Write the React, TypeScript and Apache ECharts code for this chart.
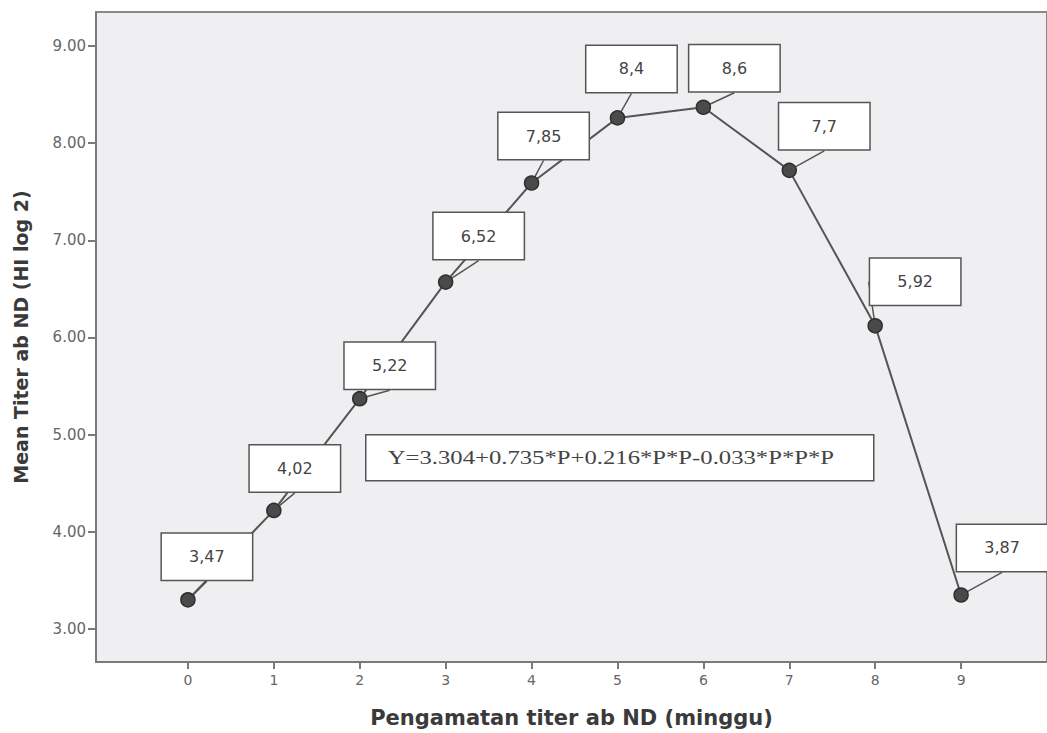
import React, { useEffect, useRef } from "react";
import * as echarts from "echarts";

const weeks = [0, 1, 2, 3, 4, 5, 6, 7, 8, 9];
const meanTiter = [3.3, 4.22, 5.37, 6.57, 7.59, 8.26, 8.37, 7.72, 6.12, 3.35];
const labelTexts = ["3,47", "4,02", "5,22", "6,52", "7,85", "8,4", "8,6", "7,7", "5,92", "3,87"];
const labelOffsets = [
  [19, -43], [21, -42], [30, -33], [33, -46], [12, -47],
  [14, -49], [31, -39], [35, -44], [40, -44], [41, -47],
];
const yTicks = [3, 4, 5, 6, 7, 8, 9];
const equation = "Y=3.304+0.735*P+0.216*P*P-0.033*P*P*P";

export default function App() {
  const ref = useRef<HTMLDivElement>(null);
  useEffect(() => {
    if (!ref.current) return;
    const chart = echarts.init(ref.current, null, { renderer: "svg" });
    const data = weeks.map((w, i) => ({
      value: [w, meanTiter[i]],
      label: {
        show: true,
        position: "inside",
        offset: labelOffsets[i],
        formatter: labelTexts[i],
      },
    }));
    chart.setOption({
      animation: false,
      backgroundColor: "#ffffff",
      grid: {
        left: 96,
        right: -3,
        top: 12,
        bottom: 71,
        show: true,
        backgroundColor: "#EFEFF1",
        borderColor: "#8a8a8a",
        borderWidth: 2,
      },
      xAxis: {
        type: "value",
        min: -1.07,
        max: 10,
        name: "Pengamatan titer ab ND (minggu)",
        nameLocation: "middle",
        nameGap: 45,
        nameTextStyle: { fontFamily: "DejaVu Sans", fontWeight: "bold", fontSize: 21, color: "#3a3a3a" },
        axisLine: { show: true, onZero: false, lineStyle: { color: "#7a7a7a", width: 2 } },
        axisTick: { show: true, length: 7, customValues: weeks, lineStyle: { color: "#7a7a7a", width: 2 } },
        axisLabel: { customValues: weeks, color: "#666", fontSize: 14, margin: 11, fontFamily: "DejaVu Sans" },
        splitLine: { show: false },
      },
      yAxis: {
        type: "value",
        min: 2.66,
        max: 9.35,
        name: "Mean Titer ab ND (HI log 2)",
        nameLocation: "middle",
        nameGap: 66,
        nameTextStyle: { fontFamily: "DejaVu Sans", fontWeight: "bold", fontSize: 19, color: "#3a3a3a" },
        axisLine: { show: true, onZero: false, lineStyle: { color: "#7a7a7a", width: 2 } },
        axisTick: { show: true, length: 8, customValues: yTicks, lineStyle: { color: "#7a7a7a", width: 2 } },
        axisLabel: {
          customValues: yTicks,
          color: "#666",
          fontSize: 15,
          margin: 10,
          fontFamily: "DejaVu Sans",
          formatter: (v: number) => v.toFixed(2),
        },
        splitLine: { show: false },
      },
      series: [
        {
          type: "line",
          data,
          symbol: "circle",
          symbolSize: 14,
          lineStyle: { color: "#555", width: 2 },
          itemStyle: { color: "#4a4a4a", borderColor: "#2e2e2e", borderWidth: 1.5 },
          label: {
            show: true,
            color: "#444",
            fontSize: 16,
            fontFamily: "DejaVu Sans, sans-serif",
            backgroundColor: "#ffffff",
            borderColor: "#555",
            borderWidth: 1.5,
            width: 90,
            height: 46,
            lineHeight: 46,
            align: "center",
            verticalAlign: "middle",
          },
          labelLine: { show: true, lineStyle: { color: "#555", width: 1.5 } },
          z: 3,
        },
      ],
      graphic: [
        {
          type: "group",
          left: 365,
          top: 434,
          children: [
            {
              type: "rect",
              shape: { x: 0, y: 0, width: 508, height: 46 },
              style: { fill: "#ffffff", stroke: "#555", lineWidth: 1.5 },
            },
            {
              type: "text",
              x: 22,
              y: 23,
              scaleX: 1.3,
              style: {
                text: equation,
                font: "19px 'Liberation Serif', 'Times New Roman', serif",
                fill: "#444",
                verticalAlign: "middle",
              },
            },
          ],
        },
      ],
    });
    return () => chart.dispose();
  }, []);
  return <div ref={ref} style={{ position: "fixed", left: 0, top: 0, width: 1047, height: 733 }} />;
}
